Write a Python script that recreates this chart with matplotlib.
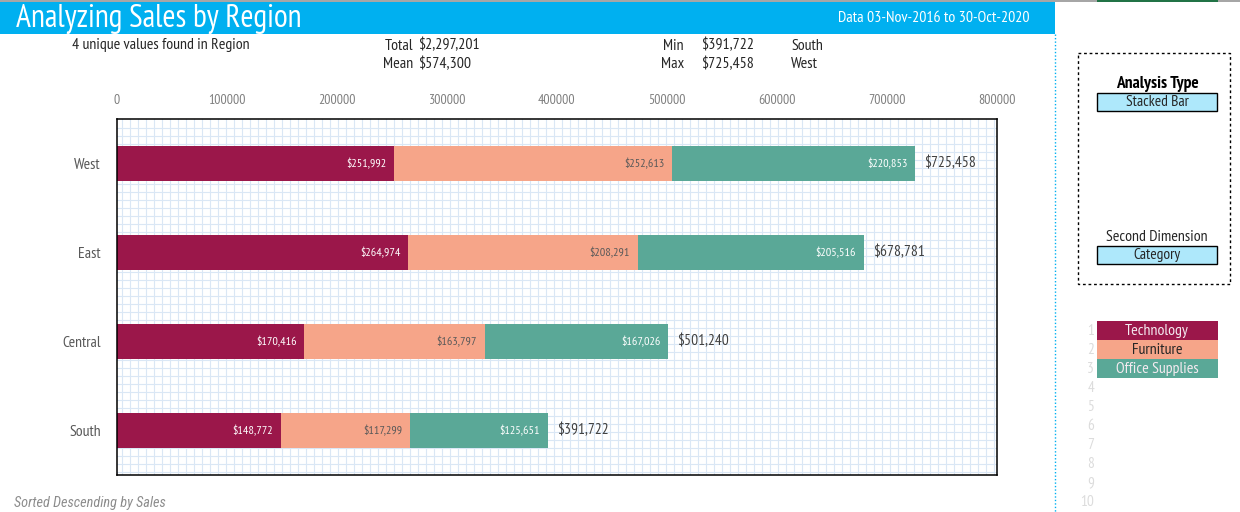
import matplotlib
matplotlib.use("Agg")
import matplotlib.pyplot as plt
from matplotlib.patches import Rectangle
import numpy as np

# ---------------- data ----------------
regions = ["West", "East", "Central", "South"]
technology = [251992, 264974, 170416, 148772]
furniture = [252613, 208291, 163797, 117299]
office_supplies = [220853, 205516, 167026, 125651]
totals = [725458, 678781, 501240, 391722]
series_names = ["Technology", "Furniture", "Office Supplies"]
series_colors = ["#9b174a", "#f6a589", "#5aa897"]
label_colors = ["#ffffff", "#595959", "#ffffff"]
x_ticks = [0, 100000, 200000, 300000, 400000, 500000, 600000, 700000, 800000]
date_range = "Data 03-Nov-2016 to 30-Oct-2020"

FONT = ["PT Sans Narrow", "Liberation Sans", "DejaVu Sans"]
plt.rcParams["font.family"] = FONT

W, H = 1240, 512
fig = plt.figure(figsize=(W / 100, H / 100), dpi=100)

# background / decoration axes in pixel coordinates
bg = fig.add_axes([0, 0, 1, 1], zorder=0)
bg.set_xlim(0, W)
bg.set_ylim(H, 0)
bg.axis("off")

# top strip lines
bg.add_patch(Rectangle((0, 0), W, 2, color="#a6a6a6", lw=0))
bg.add_patch(Rectangle((1097, 0), 121, 2, color="#217346", lw=0))
# header
bg.add_patch(Rectangle((0, 2), 1055, 32, color="#00b0f0", lw=0))
bg.text(16, 19, "Analyzing Sales by Region", color="white", fontsize=22.8,
        va="center", ha="left")
bg.text(1030, 18, date_range, color="white", fontsize=11.4, va="center", ha="right")
# dotted separator
bg.plot([1055, 1055], [34, H], color="#00b0f0", lw=1.0, ls=(0, (1, 1.5)))

# summary stats
grand_total = sum(totals)
mean_val = grand_total / len(totals)
imin = int(np.argmin(totals))
imax = int(np.argmax(totals))
txt_c = "#262626"
fs = 11.4
bg.text(72, 45.5, f"{len(regions)} unique values found in Region", color=txt_c, fontsize=fs, va="center")
bg.text(413, 45.5, "Total", color=txt_c, fontsize=fs, va="center", ha="right")
bg.text(418, 45.5, f"${grand_total:,.0f}", color=txt_c, fontsize=fs, va="center")
bg.text(413, 64.5, "Mean", color=txt_c, fontsize=fs, va="center", ha="right")
bg.text(418, 64.5, f"${mean_val:,.0f}", color=txt_c, fontsize=fs, va="center")
bg.text(684, 45.5, "Min", color=txt_c, fontsize=fs, va="center", ha="right")
bg.text(701, 45.5, f"${totals[imin]:,.0f}", color=txt_c, fontsize=fs, va="center")
bg.text(791, 45.5, regions[imin], color=txt_c, fontsize=fs, va="center")
bg.text(684, 64.5, "Max", color=txt_c, fontsize=fs, va="center", ha="right")
bg.text(701, 64.5, f"${totals[imax]:,.0f}", color=txt_c, fontsize=fs, va="center")
bg.text(791, 64.5, regions[imax], color=txt_c, fontsize=fs, va="center")

bg.text(14, 503, "Sorted Descending by Sales", color="#8c8c8c", fontsize=10.3,
        style="italic", family=["Roboto Condensed", "PT Sans Narrow", "DejaVu Sans"],
        va="center")

# right panel
bg.add_patch(Rectangle((1078, 53), 152, 231, fill=False, ec="black", lw=1.0,
                       ls=(0, (2, 2))))
bg.text(1157, 84, "Analysis Type", color="black", fontsize=12.5, weight="bold",
        ha="center", va="center")
bg.add_patch(Rectangle((1097, 93), 120, 18, fc="#aee8fb", ec="black", lw=1.0))
bg.text(1157, 102, "Stacked Bar", color="#262626", fontsize=11.2, ha="center", va="center")
bg.text(1157, 237, "Second Dimension", color="#262626", fontsize=11.4, ha="center", va="center")
bg.add_patch(Rectangle((1097, 246), 120, 18, fc="#aee8fb", ec="black", lw=1.0))
bg.text(1157, 255, "Category", color="#262626", fontsize=11.2, ha="center", va="center")

# legend list
for i in range(10):
    yc = 331 + 19 * i
    bg.text(1094, yc, str(i + 1), color="#dcdcdc", fontsize=11, ha="right", va="center")
for i, (name, col, lc) in enumerate(zip(series_names, series_colors, label_colors)):
    top = 321 + 19 * i
    bg.add_patch(Rectangle((1097, top), 121, 19, color=col, lw=0))
    bg.text(1157, top + 9.5, name, color=("#262626" if lc != "#ffffff" else "#f4eaf0"),
            fontsize=11.4, ha="center", va="center")

# ---------------- main chart ----------------
L, R, T, B = 117, 997, 119, 475
ax = fig.add_axes([L / W, (H - B) / H, (R - L) / W, (B - T) / H], zorder=1)
ax.set_facecolor("white")

# spreadsheet-like cell grid (pixel pitch 8)
for px in np.arange(122, R, 8):
    ax.axvline((px - L) / (R - L) * x_ticks[-1], color="#dae7f5", lw=0.8, zorder=0)
for py in np.arange(128, B, 8):
    ax.axhline(-0.5 + (py - T) / (B - T) * len(regions), color="#dae7f5", lw=0.8, zorder=0)

y = np.arange(len(regions))
left = np.zeros(len(regions))
bar_h = 0.39
for vals, col, lc in zip([technology, furniture, office_supplies], series_colors, label_colors):
    vals = np.array(vals, dtype=float)
    ax.barh(y, vals, left=left, height=bar_h, color=col, lw=0, zorder=2)
    for yi, (lv, v) in enumerate(zip(left, vals)):
        ax.annotate(f"${v:,.0f}", xy=(lv + v, yi), xytext=(-5.5, 0),
                    textcoords="offset points", ha="right", va="center",
                    color=lc, fontsize=8.7, zorder=3)
    left = left + vals

for yi, (end, tot) in enumerate(zip(left, totals)):
    ax.annotate(f"${tot:,.0f}", xy=(end, yi), xytext=(6.5, 0), textcoords="offset points",
                ha="left", va="center", color="#404040", fontsize=11.2, zorder=3)

ax.set_xlim(0, x_ticks[-1])
ax.set_ylim(len(regions) - 0.5, -0.5)
ax.xaxis.tick_top()
ax.set_xticks(x_ticks)
ax.set_xticklabels([str(t) for t in x_ticks])
ax.set_yticks(y)
ax.set_yticklabels(regions)
ax.tick_params(axis="x", length=0, pad=9, labelsize=10, labelcolor="#7f7f7f")
ax.tick_params(axis="y", length=0, pad=11.5, labelsize=11.3, labelcolor="#595959")
for s in ax.spines.values():
    s.set_color("black")
    s.set_linewidth(1.1)
    s.set_zorder(4)

fig.savefig("out.png", dpi=100)
